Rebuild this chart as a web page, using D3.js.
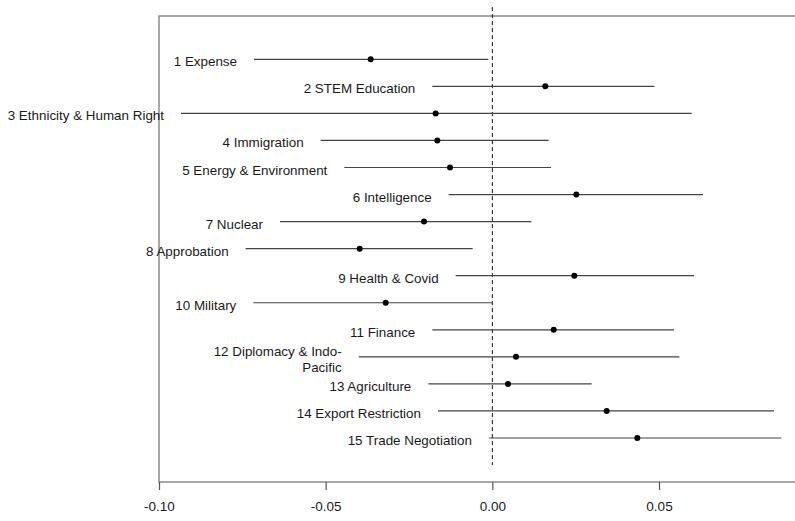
<!DOCTYPE html>
<html>
<head>
<meta charset="utf-8">
<script src="https://cdn.jsdelivr.net/npm/d3@7"></script>
<style>
  body { margin: 0; background: #fff; }
  svg { display: block; }
  text { font-family: "Liberation Sans", Arial, sans-serif; }
</style>
</head>
<body>
<div id="chart_div"></div>
<script>
// topics, one row each (top to bottom)
let topics = ["1 Expense", "2 STEM Education", "3 Ethnicity & Human Right", "4 Immigration",
    "5 Energy & Environment", "6 Intelligence", "7 Nuclear", "8 Approbation", "9 Health & Covid",
    "10 Military", "11 Finance", "12 Diplomacy & Indo-|Pacific", "13 Agriculture",
    "14 Export Restriction", "15 Trade Negotiation"];

let estimate = [-0.0365, 0.0159, -0.0170, -0.0165, -0.0127, 0.0252, -0.0205, -0.0398, 0.0246,
    -0.0320, 0.0184, 0.0071, 0.0047, 0.0343, 0.0435];
let lower = [-0.0715, -0.0180, -0.0934, -0.0515, -0.0444, -0.0131, -0.0637, -0.0740, -0.0110,
    -0.0717, -0.0180, -0.0401, -0.0192, -0.0163, -0.0010];
let upper = [-0.0012, 0.0486, 0.0598, 0.0169, 0.0176, 0.0632, 0.0117, -0.0059, 0.0605,
    0.0000, 0.0545, 0.0561, 0.0298, 0.0845, 0.0867];

let x_ticks = [-0.10, -0.05, 0.00, 0.05];

let width = 795, height = 521;

let svg = d3.select('#chart_div').append('svg')
    .attr('width', width)
    .attr('height', height);

let x = d3.scaleLinear()
    .domain([-0.10, 0.05])
    .range([159, 659]);

// row index -> y, row 1 at top
let y = d3.scaleLinear()
    .domain([1, 15])
    .range([59.3, 438]);

let box_top = 16, box_bottom = 482;

// plot box (right side runs off the picture)
svg.append('path')
    .attr('d', `M${width + 5},${box_top}H${x(-0.10)}V${box_bottom}H${width + 5}`)
    .attr('fill', 'none')
    .attr('stroke', '#8a8a8a')
    .attr('stroke-width', 1.5);

// x axis
let x_axis = svg.append('g')
    .attr('transform', `translate(0,${box_bottom})`)
    .call(d3.axisBottom(x).tickValues(x_ticks).tickSize(8).tickPadding(11).tickFormat(d3.format('.2f')));

x_axis.select('.domain').remove();
x_axis.selectAll('.tick line').attr('stroke', '#555').attr('stroke-width', 1.2);
x_axis.selectAll('.tick text')
    .attr('fill', '#1a1a1a')
    .style('font-size', '13.5px')
    .style('font-family', '"Liberation Sans", Arial, sans-serif')
    .text(d => d3.format('.2f')(d).replace('−', '-'));

// zero reference line
svg.append('line')
    .attr('x1', x(0)).attr('x2', x(0))
    .attr('y1', y(-0.93)).attr('y2', y(16))
    .attr('stroke', '#111')
    .attr('stroke-width', 1)
    .attr('stroke-dasharray', '4,3');

let rows = topics.map((t, i) => ({label: t, row: i + 1, est: estimate[i], lo: lower[i], hi: upper[i]}));

let g = svg.append('g');

g.selectAll('line.ci')
    .data(rows)
    .enter().append('line')
    .attr('class', 'ci')
    .attr('x1', d => x(d.lo))
    .attr('x2', d => x(d.hi))
    .attr('y1', d => y(d.row))
    .attr('y2', d => y(d.row))
    .attr('stroke', '#444')
    .attr('stroke-width', 1.2);

g.selectAll('circle')
    .data(rows)
    .enter().append('circle')
    .attr('cx', d => x(d.est))
    .attr('cy', d => y(d.row))
    .attr('r', 3)
    .attr('fill', '#000');

let labels = g.selectAll('text.lab')
    .data(rows)
    .enter().append('text')
    .attr('class', 'lab')
    .attr('text-anchor', 'end')
    .attr('fill', '#1a1a1a')
    .style('font-size', '13.4px')
    .attr('x', d => x(d.lo) - 17)
    .attr('y', d => y(d.row));

labels.each(function (d) {
    let parts = d.label.split('|');
    let off = (parts.length - 1) * 8;
    parts.forEach(function (p, j) {
        d3.select(this).append('tspan')
            .attr('x', x(d.lo) - 17)
            .attr('y', y(d.row) - off + j * 16 + 7)
            .text(p);
    }, this);
});
</script>
</body>
</html>
